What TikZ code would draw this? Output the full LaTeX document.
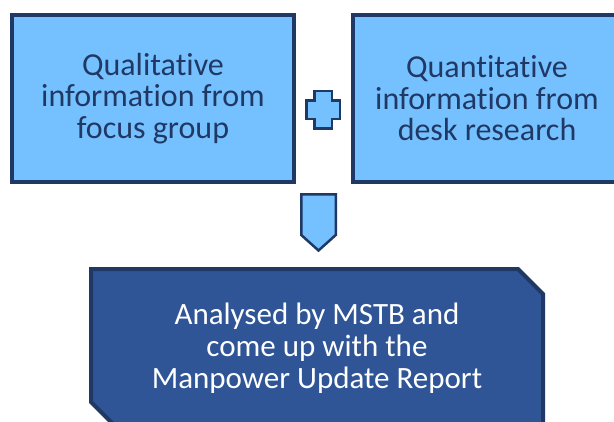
\documentclass[tikz,border=0pt]{standalone}
\usepackage{fontspec}
\setmainfont{Carlito}[Ligatures = NoCommon]
\usetikzlibrary{positioning,shapes.misc}

\definecolor{boxfill}{RGB}{117,193,255}
\definecolor{navy}{RGB}{32,56,100}
\definecolor{reportfill}{RGB}{47,85,151}

\tikzset{
	infobox/.style = {draw = navy, line width = 4pt, fill = boxfill, text = navy, align = center,
		minimum width = 282pt, minimum height = 167pt, inner sep = 0pt,
		font = \fontsize{32}{31.5}\selectfont},
	reportbox/.style = {chamfered rectangle, chamfered rectangle corners = {north east, south west},
		chamfered rectangle xsep = 12.5pt, chamfered rectangle ysep = 12.5pt,
		draw = navy, line width = 4pt, fill = reportfill, text = white, align = center,
		minimum width = 452pt, minimum height = 158pt, inner sep = 0pt,
		font = \fontsize{31}{32}\selectfont},
	sign/.style = {draw = navy, line width = 2.5pt, fill = boxfill, line join = miter}
}

\begin{document}
\begin{tikzpicture}[x = 1pt, y = -1pt]
\clip (0,0) rectangle (614,421);

% the two sources
\node[infobox] (qual) at (153,98.5) {Qualitative\\information from\\focus group};
\node[infobox, minimum width = 268pt, right = 55pt of qual] (quan) {Quantitative\\information from\\desk research};

% plus sign between them
\coordinate (plus) at (323,109.5);
\draw[sign, shift = {(plus)}] (-8.75,-18.75) -- (8.75,-18.75) -- (8.75,-9.25) -- (16.75,-9.25)
	-- (16.75,9.25) -- (8.75,9.25) -- (8.75,18.75) -- (-8.75,18.75) -- (-8.75,9.25)
	-- (-16.75,9.25) -- (-16.75,-9.25) -- (-8.75,-9.25) -- cycle;

% down arrow
\coordinate (down) at (318.5,193);
\draw[sign, shift = {(down)}] (-17.25,1.25) -- (17.25,1.25) -- (17.25,42) -- (0,57.5) -- (-17.25,42) -- cycle;

% result
\node[reportbox] (report) at (317,348) {Analysed by MSTB and\\come up with the\\Manpower Update Report};

\end{tikzpicture}
\end{document}
